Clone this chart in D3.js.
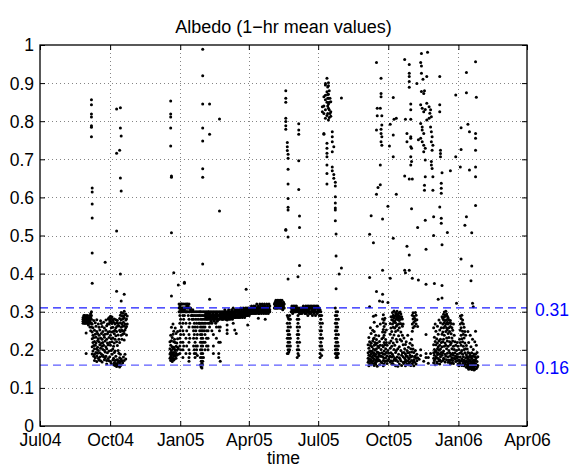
<!DOCTYPE html>
<html><head><meta charset="utf-8">
<script src="https://cdn.jsdelivr.net/npm/d3@7"></script>
<style>body{margin:0;background:#fff}svg{display:block}</style>
</head><body>
<svg id="chart" width="569" height="467"></svg>
<script>
// ---------- data (day offset from 1 Jul 2004, then hourly albedo values of that day) ----------
const recordStart = "2004-07-01";
const xDomain = ["2004-07-01", "2006-04-01"];
const xTickDates = ["2004-07-01","2004-10-01","2005-01-01","2005-04-01","2005-07-01","2005-10-01","2006-01-01","2006-04-01"];
const yTicks = [0,0.1,0.2,0.3,0.4,0.5,0.6,0.7,0.8,0.9,1];
const refValues = [0.31, 0.16];
const refLabels = ["0.31", "0.16"];
const titleText = "Albedo (1\u2212hr mean values)";
const xLabelText = "time";

const surface2004 = [
[56,.28,.285,.275,.27],[57,.285,.28,.275,.29],[58,.28,.275,.285,.27,.29],[59,.285,.28,.27,.275],
[60,.28,.29,.275,.244,.19],[61,.285,.275,.27],[62,.28,.27,.285,.29],[63,.28,.275,.265],
[64,.285,.27,.28],[65,.29,.28,.275,.26],[66,.295,.285,.27,.25],[67,.30,.29,.28,.27,.26],
[68,.268,.247,.229,.208,.189],[69,.258,.238,.219,.197],[70,.277,.232,.211,.183],[71,.251,.222,.203,.188,.172],
[72,.271,.241,.212,.179],[73,.262,.233,.218,.193],[74,.279,.248,.202,.184,.169],[75,.243,.224,.207,.191],
[76,.268,.229,.198,.178],[77,.259,.238,.221,.173],[78,.252,.213,.192,.181],[79,.276,.231,.204,.171],
[80,.269,.243,.217,.189],[81,.261,.228,.209,.184,.168],[82,.248,.219,.201,.186],[83,.272,.239,.212,.182],
[84,.257,.233,.198,.174],[85,.241,.223,.194,.179],[86,.278,.251,.208,.183],[87,.263,.228,.203,.172,.163],
[88,.268,.242,.218,.192],[89,.281,.247,.213,.177],[90,.284,.268,.232,.197,.171],[91,.279,.273,.248,.219,.182],
[92,.288,.271,.238,.212,.169],[93,.282,.274,.258,.229,.198,.164],[94,.286,.269,.247,.221,.188],[95,.278,.259,.231,.202,.173],
[96,.272,.249,.209,.178,.161],[97,.281,.242,.218,.193,.166],[98,.268,.251,.228,.197,.172,.159],[99,.279,.258,.237,.183,.164],
[100,.271,.248,.221,.173,.161,.156],[101,.277,.262,.211,.174,.162],[102,.269,.239,.198,.167,.158],[103,.263,.228,.191,.171,.159],
[104,.282,.251,.219,.179,.166,.155],[105,.291,.271,.248,.188,.169,.158],[106,.298,.279,.259,.238,.176,.161],[107,.289,.268,.251,.228,.171],
[108,.296,.281,.262,.241,.166],[109,.288,.272,.249,.181],[110,.301,.284,.263,.243,.226,.172],[111,.292,.268,.252,.188],
[112,.294,.278,.258,.176],[113,.281,.261,.239],[114,.289,.268]
];

const surface2005 = [
[170,.221,.203,.189,.178],[171,.238,.212,.193,.181,.172],[172,.259,.224,.198,.186,.174],[173,.232,.208,.192,.179,.169],
[174,.268,.241,.203,.188,.177],[175,.249,.221,.207,.193,.183,.173],[176,.228,.202,.187,.176],[177,.257,.219,.198,.184],
[178,.243,.209,.191,.178],[179,.218,.199,.186],[180,.248,.229,.207],[181,.203,.188],
[182,.31,.32,.30],[183,.315,.30,.29,.27,.25,.23,.21,.19],[184,.32,.31,.305,.28,.24,.22,.20],[185,.31,.32,.30,.26],
[186,.32,.31,.30],[187,.31,.305,.29,.27,.25,.22,.20,.18],[188,.32,.31,.30,.28,.24,.21],[189,.31,.305,.29],
[190,.32,.31,.30],[191,.31,.30,.27,.23,.19],[192,.32,.315,.30,.25,.21],[193,.32,.31,.30],
[194,.315,.31,.29],[195,.32,.30,.28,.26,.24,.22,.20,.18,.17],[196,.31,.30,.27,.23,.19],[197,.31,.305],
[198,.30,.29],[199,.30,.29,.28],[200,.305,.29,.26],[201,.30,.28,.25,.23,.21],
[202,.29,.27,.24,.20,.19],[203,.30,.26,.22,.18],[204,.29,.28,.25,.21,.19],[205,.30,.27,.23,.20],
[206,.29,.26,.24,.21,.185],[207,.30,.28],[208,.29,.27],[209,.30,.29,.27,.25],
[210,.30,.28,.26,.24,.22,.20,.18,.16],[211,.29,.27,.25,.23,.21,.19,.17,.155],[212,.30,.28,.26,.24,.22,.20,.18,.165,.152],
[213,.29,.27,.25,.23,.21,.19,.17,.16],[214,.30,.28,.26,.22,.18],[215,.29,.27,.25],
[216,.30,.29,.28,.26,.24,.22,.20],[217,.295,.285,.27],[218,.30,.29,.28,.25,.23,.21],[219,.29,.28],
[220,.30,.295,.285,.27,.25,.23,.21,.20],[221,.30,.29,.28],[222,.295,.285,.27,.26],[223,.30,.29,.28],
[224,.29,.285,.275],[225,.30,.29,.27,.25],[226,.295,.285,.28],[227,.30,.29,.28,.24,.21,.19],
[228,.29,.285,.275],[229,.30,.29,.28],[230,.295,.285,.27],[231,.30,.29,.28,.26,.23],
[232,.295,.285,.275],[233,.30,.29,.28],[234,.29,.28,.26,.22,.19,.18],[235,.30,.29,.28,.25],
[236,.295,.285,.26,.22,.17],[237,.30,.29,.285],[238,.295,.285,.28],[239,.30,.29,.28],
[240,.295,.29,.28],[241,.30,.29,.285],[242,.305,.295,.285],[243,.30,.29,.28],
[244,.295,.285,.28],[245,.30,.29,.278,.265,.252,.243],[246,.30,.295,.285],[247,.305,.29,.28],
[248,.30,.29,.285],[249,.295,.29,.28],[250,.30,.29,.285],[251,.305,.295,.285],
[252,.30,.29,.28],[253,.31,.30,.29,.27],[254,.30,.295,.285],[255,.305,.29,.285,.252],
[256,.30,.295,.285],[257,.305,.30,.29,.243],[258,.30,.29,.285],[259,.305,.295,.29],
[260,.30,.29,.285],[261,.305,.30,.29],[262,.30,.295,.285],[263,.31,.30,.29],
[264,.305,.295,.29],[265,.30,.29,.285],[266,.31,.30,.29],[267,.305,.295,.29],
[268,.30,.295,.285],[269,.31,.30,.29],[270,.305,.295,.29],[271,.31,.30,.29],
[272,.305,.30,.29,.265],[273,.31,.30,.295],[274,.305,.295,.29],[275,.31,.30,.295],
[276,.31,.305,.295],[277,.315,.30,.295],[278,.31,.305,.30],[279,.31,.30,.295],
[280,.315,.305,.30],[281,.31,.30,.295],[282,.315,.31,.30],[283,.31,.305,.295],
[284,.32,.31,.30],[285,.31,.305,.30],[286,.315,.305,.295,.283],[287,.31,.30,.295],
[288,.32,.31,.30],[289,.315,.305,.30],[290,.31,.305,.295],[291,.32,.31,.30],
[292,.315,.305,.30],[293,.31,.30,.295],[294,.32,.31,.30],[295,.315,.305,.30,.28],
[296,.31,.30,.295],[297,.32,.31,.30],[298,.315,.305,.30],[299,.31,.305,.295],
[300,.32,.31,.30],[301,.315,.305,.30],
[307,.32,.31],[308,.325,.315,.31],[309,.33,.32,.31],[310,.325,.315,.31],
[311,.33,.32,.31],[312,.325,.32,.31],[313,.33,.32,.315],[314,.325,.315,.31],
[315,.33,.32,.31],[316,.325,.315,.31],[317,.33,.32,.31],[318,.32,.315,.305],
[319,.325,.315,.31],[320,.32,.31],
[324,.29,.27,.25,.23,.21,.19],[325,.285,.26,.24,.22,.20,.19],[326,.28,.25,.23,.21,.195],
[327,.29,.27,.24,.22,.20],[328,.28,.26,.23,.21],
[329,.31,.30],[330,.315,.305],[331,.31,.30,.295],[332,.315,.305],[333,.31,.30],
[334,.315,.305,.30],[335,.31,.30],[336,.315,.305],
[337,.31,.30,.28,.26,.24,.22,.20,.18],[338,.305,.29,.27,.25,.23,.21,.19],[339,.31,.30,.28,.24,.20,.185],
[340,.305,.295,.26,.22],
[341,.31,.30,.295],[342,.305,.30],[343,.31,.30,.295],[344,.31,.305],[345,.315,.305,.30],
[346,.31,.30],[347,.31,.305,.295],[348,.315,.305],[349,.31,.30,.295],[350,.315,.305],
[351,.31,.30,.29],[352,.315,.305],[353,.31,.30,.295],[354,.315,.31],[355,.31,.30,.295],
[356,.315,.305],[357,.31,.30,.29],[358,.315,.305],[359,.31,.30,.295],[360,.315,.305],
[361,.31,.30,.29],[362,.315,.31],[363,.31,.30,.295],[364,.315,.305],[365,.31,.30],
[366,.31,.30,.29],[367,.305,.29,.27,.25,.23,.21,.19,.18],[368,.30,.28,.26,.24,.22,.20],
[369,.29,.25,.21,.185],[370,.27,.23,.20],
[387,.31,.29,.27,.25,.23,.21,.20,.19],[388,.30,.28,.26,.24,.22,.20,.19,.18],
[389,.29,.27,.25,.23,.21,.20,.185],[390,.30,.26,.22,.20,.19,.18],[391,.28,.24,.21,.19]
];

const surface2006 = [
[430,.213,.192,.178,.167],[431,.232,.204,.186,.172,.158],[432,.221,.195,.176,.163],[433,.258,.211,.197,.183,.169],
[434,.243,.217,.189,.174,.161],[435,.208,.196,.181,.168],[436,.251,.223,.193,.179,.164],[437,.288,.229,.202,.186,.171],
[438,.272,.248,.231,.212,.191,.176,.159],[439,.219,.199,.184,.166],[440,.291,.238,.214,.188,.173,.163],[441,.227,.203,.182,.169],
[442,.262,.218,.194,.177,.157],[443,.209,.193,.181,.171],[444,.237,.206,.187,.174],[445,.222,.191,.172,.161],
[446,.268,.212,.183],[447,.201,.184,.168],[448,.229,.192,.166],[449,.281,.247,.211,.182],
[450,.292,.271,.253,.232,.208,.189,.172,.158],[451,.278,.261,.238,.219,.197,.178,.163],[452,.283,.246,.213,.188,.169],
[453,.268,.227,.203,.179],[454,.252,.219,.193,.171],[455,.212,.184,.164],[456,.198,.172],[457,.191,.176],[458,.218,.182],
[459,.269,.241,.204,.183,.168],[460,.287,.257,.223,.192,.171],[461,.279,.248,.209,.181,.163],[462,.298,.286,.268,.231,.188,.169],
[463,.291,.277,.259,.218,.183,.162],[464,.302,.284,.272,.239,.201,.173],[465,.289,.276,.257,.212,.178],
[466,.297,.288,.271,.248,.193,.172,.158],[467,.293,.281,.262,.228,.198,.174],[468,.301,.287,.266,.221,.181],
[469,.292,.279,.251,.203,.169,.157],[470,.296,.283,.268,.237,.188],[471,.288,.277,.258,.208,.179,.163],
[472,.299,.286,.269,.227,.176],[473,.294,.281,.247,.198,.171],[474,.287,.268,.223,.186,.159],[475,.281,.262,.238,.192],
[476,.268,.213,.182,.167],[477,.231,.193,.164],[478,.203,.178,.168],
[479,.214,.189,.174,.158],[480,.221,.184,.169],[481,.198,.183,.163],[482,.238,.192,.171],[483,.207,.179,.161],
[484,.193,.176,.166],[485,.217,.186,.168],[486,.203,.181,.159],[487,.228,.194,.172],
[488,.291,.268,.249,.212,.183,.164],[489,.297,.281,.258,.202,.169],[490,.288,.272,.193,.174,.158],[491,.283,.262,.181,.167],
[492,.298,.277,.198,.184],[493,.291,.268,.178,.163],[494,.279,.188,.171],[495,.261,.179],
[497,.175],[499,.20,.185],[503,.17],[506,.24,.19,.18],[509,.18,.165],[512,.19],
[516,.258,.213,.192,.178,.166],[517,.233,.201,.186,.172],[518,.268,.222,.194,.176,.161],[519,.249,.213,.197,.181],
[520,.229,.193,.179,.168],[521,.262,.218,.203,.187,.164],[522,.241,.208,.191,.177],[523,.278,.224,.199,.171],
[524,.252,.212,.188,.174,.163],[525,.271,.228,.202,.182],[526,.258,.219,.193,.169],[527,.287,.241,.208,.186],
[528,.282,.268,.247,.221,.192,.172],[529,.293,.278,.258,.228,.197,.178],[530,.299,.286,.271,.238,.209,.176],
[531,.289,.277,.262,.218,.188,.168],[532,.301,.291,.268,.248,.212,.183],[533,.294,.279,.257,.231,.203,.174],
[534,.288,.272,.252,.223,.191],[535,.284,.268,.243,.209,.182,.167],[536,.279,.258,.232,.198,.173],
[537,.271,.248,.221,.192,.168],[538,.277,.261,.213,.184,.163],[539,.269,.242,.218,.188,.174],
[540,.258,.231,.203,.179,.166],[541,.251,.223,.191,.172],[542,.268,.209,.186,.164],[543,.238,.201,.178],
[544,.221,.192,.176],[545,.212,.183,.169],[546,.198,.178],
[547,.219,.188,.171],[548,.209,.182,.163],[549,.201,.174,.158],[550,.228,.191,.168],
[551,.289,.268,.251,.219,.181,.163],[552,.282,.258,.238,.212,.193,.171],[553,.291,.271,.229,.198,.176,.159],
[554,.278,.249,.221,.188,.169],[555,.268,.241,.209,.182,.164],[556,.259,.231,.201,.173,.158],
[557,.248,.218,.192,.168],[558,.238,.203,.179,.162],[559,.211,.187,.171,.154],
[560,.202,.182,.168,.157],[561,.248,.193,.176,.163,.153],[562,.219,.181,.169,.158,.149],[563,.191,.174,.163,.152],
[564,.238,.186,.171,.161,.151],[565,.208,.181,.167,.156],[566,.192,.177,.164,.154,.148],[567,.228,.183,.171,.159,.151],
[568,.201,.184,.168,.157],[569,.189,.173,.164,.153,.147],[570,.221,.182,.169,.158,.149],[571,.249,.188,.174,.163],
[572,.212,.179,.161,.151],[573,.193,.169,.154],[574,.182,.159]
];

const highAlbedo = [
[67,.856,.843,.819,.811,.788,.784,.759],[68,.625,.614,.583,.546,.454,.375],[85,.43],
[100,.832,.716,.512,.354],[104,.724],[105,.835,.782,.651,.399],[106,.761,.617,.328],[110,.346],
[171,.853,.819,.811,.782,.735],[172,.656,.653,.507,.341],[175,.402],[181,.37],[189,.377,.375],
[213,.989,.919,.845,.782,.748,.675,.653,.425],[222,.845,.766,.333],[235,.806,.564],[270,.359],
[322,.880,.860,.850,.808,.799,.788,.779,.516,.514],[324,.744,.733,.723],
[325,.713,.703,.674,.635,.597,.574,.567,.496,.386],[338,.392],[339,.793,.777,.766,.696,.621],
[340,.551,.521,.421],
[370,.838,.825],[372,.864,.766,.768,.84,.82],[374,.899,.895,.868,.808,.856,.83],
[376,.913,.877,.742,.729,.716,.707,.685,.663,.635,.85,.815],[377,.89,.86,.84,.82,.87],
[378,.901,.893,.871,.86,.834,.803,.845],[379,.88,.85,.83,.81],[380,.86,.82],
[381,.851,.825,.813],[383,.772,.759,.746,.72,.68,.67],[385,.733,.66,.65],
[387,.64,.63,.602,.585,.572,.567,.539],[388,.504,.446,.36],[392,.399],[395,.861,.415],
[432,.503,.39,.313],[434,.552],[437,.481],[441,.954,.777,.608,.353],[442,.834,.814],[443,.626],
[445,.328],[446,.834,.685,.633],[447,.913,.873,.864,.768,.779,.746],[448,.814,.79,.759,.737],
[449,.543,.409,.346,.326],[456,.577,.324],[458,.735],[459,.792,.388],[463,.862,.764,.707,.493],
[464,.805],[467,.808,.608],[478,.962,.656,.409],[479,.805,.402],[481,.768,.746,.472],
[484,.949,.926,.917,.904,.889,.648,.449,.409],[486,.845,.83,.805,.759,.755,.733,.707,.685],
[487,.694,.57,.729],[488,.648,.388],[494,.899],[495,.521],[496,.751,.383],
[499,.954,.843,.794,.755],[500,.978,.945,.926,.878],[501,.834,.785,.777,.746],[502,.91],
[503,.825,.768,.737,.72,.873],[504,.88,.632,.619],[505,.831,.729,.698,.654,.54],[506,.464,.372],
[507,.917,.847,.803],[508,.981],[510,.838,.808],[511,.821],[512,.83,.785],
[513,.812,.772,.746,.694,.685],[514,.759,.676,.724],[515,.737,.654,.619],[516,.549,.5],[517,.374],
[522,.333],[524,.917,.843,.825,.575],[525,.724,.715,.707],[526,.637,.624,.611,.545,.532],
[527,.665,.476,.369,.336],[534,.508],[538,.67],[545,.707,.869],[546,.322],[551,.68],
[552,.783,.726,.438],[557,.527],[559,.928,.875,.549],[561,.792],[563,.772,.672],[565,.381],
[566,.507,.42],[567,.322],[568,.313],[571,.956,.768,.755,.724,.68,.654,.579],[572,.863]
];

// ---------- drawing ----------
const parse = d3.utcParse("%Y-%m-%d");
const start = parse(recordStart);
const font = "'Liberation Sans', Arial, Helvetica, sans-serif";

const x = d3.scaleUtc().domain(xDomain.map(parse)).range([40, 527]);
const y = d3.scaleLinear().domain([0, 1]).range([426, 45]);

const svg = d3.select("#chart").style("font-family", font);
svg.append("rect").attr("width", 569).attr("height", 467).attr("fill", "#fff");

const xt = xTickDates.map(parse);

// grid
const grid = svg.append("g").attr("stroke", "#666").attr("stroke-width", 0.8).attr("stroke-dasharray", "1,3");
grid.selectAll("line.gx").data(xt.slice(1, -1)).join("line")
  .attr("x1", d => Math.round(x(d)) + 0.5).attr("x2", d => Math.round(x(d)) + 0.5)
  .attr("y1", y(1)).attr("y2", y(0));
grid.selectAll("line.gy").data(yTicks.slice(1, -1)).join("line")
  .attr("y1", d => Math.round(y(d)) + 0.5).attr("y2", d => Math.round(y(d)) + 0.5)
  .attr("x1", x.range()[0]).attr("x2", x.range()[1]);

// points
const points = [surface2004, surface2005, surface2006, highAlbedo]
  .flatMap(rows => rows.flatMap(r => r.slice(1).map(v => ({ t: d3.utcHour.offset(start, r[0] * 24 + 12), v }))));
svg.append("g").selectAll("circle").data(points).join("circle")
  .attr("cx", d => x(d.t)).attr("cy", d => y(d.v)).attr("r", 1.5).attr("fill", "#000");

// reference lines
svg.append("g").selectAll("line").data(refValues).join("line")
  .attr("x1", x.range()[0]).attr("x2", x.range()[1])
  .attr("y1", d => y(d)).attr("y2", d => y(d))
  .attr("stroke", (d, i) => i === 0 ? "#1a1aff" : "#5c5cff").attr("stroke-width", 1.3)
  .attr("stroke-dasharray", "8,5");
svg.append("g").selectAll("text").data(refValues).join("text")
  .attr("x", 535).attr("y", d => y(d) + 8.5)
  .attr("fill", "#0000ff").attr("font-size", 17.5)
  .text((d, i) => refLabels[i]);

// axes
const fmtY = d3.format("~g");
const axB = svg.append("g").attr("transform", `translate(0,${y(0)})`)
  .call(d3.axisBottom(x).tickValues(xt).tickFormat(d3.utcFormat("%b%y")).tickSizeInner(-5).tickSizeOuter(0).tickPadding(8));
const axT = svg.append("g").attr("transform", `translate(0,${y(1)})`)
  .call(d3.axisTop(x).tickValues(xt).tickFormat("").tickSizeInner(-5).tickSizeOuter(0));
const axL = svg.append("g").attr("transform", `translate(${x.range()[0]},0)`)
  .call(d3.axisLeft(y).tickValues(yTicks).tickFormat(fmtY).tickSizeInner(-5).tickSizeOuter(0).tickPadding(6));
const axR = svg.append("g").attr("transform", `translate(${x.range()[1]},0)`)
  .call(d3.axisRight(y).tickValues(yTicks).tickFormat("").tickSizeInner(-5).tickSizeOuter(0));
[axB, axT, axL, axR].forEach(g => {
  g.select(".domain").remove();
  g.selectAll("line").attr("stroke", "#000").attr("stroke-width", 1);
  g.selectAll("text").attr("fill", "#000").attr("font-size", 17.5).attr("font-family", font);
});
axL.selectAll("text").attr("dy", "0.34em");

// box
svg.append("rect").attr("x", x.range()[0]).attr("y", y(1))
  .attr("width", x.range()[1] - x.range()[0]).attr("height", y(0) - y(1))
  .attr("fill", "none").attr("stroke", "#000").attr("stroke-width", 1.3);

// title and label
svg.append("text").attr("x", (x.range()[0] + x.range()[1]) / 2).attr("y", 33)
  .attr("text-anchor", "middle").attr("font-size", 18).attr("fill", "#000").text(titleText);
svg.append("text").attr("x", (x.range()[0] + x.range()[1]) / 2).attr("y", 464)
  .attr("text-anchor", "middle").attr("font-size", 17.5).attr("fill", "#000").text(xLabelText);
</script>
</body></html>
